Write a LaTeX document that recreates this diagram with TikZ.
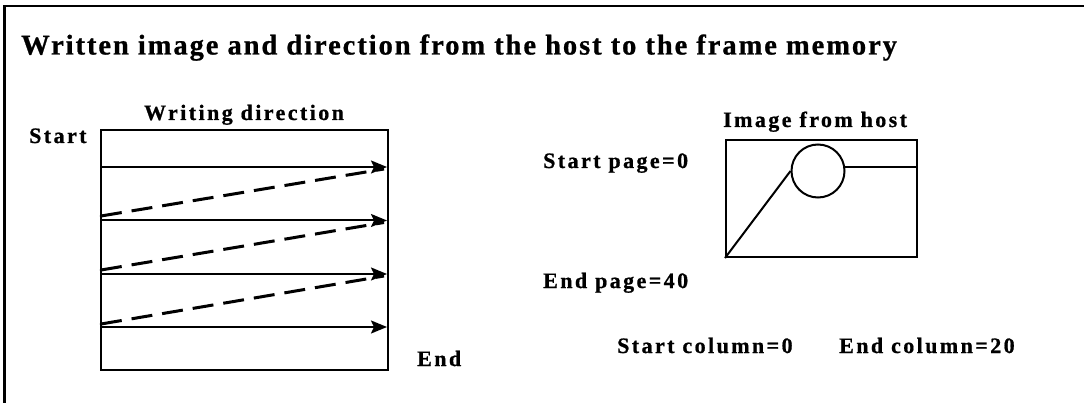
\documentclass[tikz,border=0pt]{standalone}
\usepackage{fontspec}
\setmainfont{Liberation Serif}
\newfontfamily\lblfont[LetterSpace=11,BoldFeatures={FakeBold=0.8}]{Liberation Serif}
\newfontfamily\ttlfont[LetterSpace=6.8,BoldFeatures={FakeBold=0.8}]{Liberation Serif}
\usetikzlibrary{arrows.meta}
\begin{document}
\begin{tikzpicture}[x=1pt,y=-1pt,
  thin line/.style={line width=2pt},
  lbl/.style={inner sep=0pt,font=\lblfont\bfseries\fontsize{22}{25}\selectfont},
  ttl/.style={inner sep=0pt,font=\ttlfont\bfseries\fontsize{28.5}{31}\selectfont},
  wrarrow/.style={line width=2pt,-{Stealth[length=16pt,width=13pt,inset=3pt]}},
  retline/.style={line width=3pt,dash pattern=on 21pt off 10pt},
  startdot/.style={circle,fill=black,inner sep=0pt,minimum size=3pt}]
\useasboundingbox (0,0) rectangle (1084,403);
% outer frame (top and left edges)
\draw[line width=2.5pt] (1084,6) -- (4.7,6) -- (4.7,403);
% title
\node[ttl,anchor=base west] (title) at (21,54.5) {Written image and direction from the host to the frame memory};
% writing direction box
\node[draw,thin line,minimum width=287pt,minimum height=240pt,inner sep=0pt] (wbox) at (244.5,250) {};
\node[lbl,anchor=base] (wdir) at (244,120) {Writing direction};
\node[lbl,anchor=base west] (start) at (29,143) {Start};
\node[lbl,anchor=base west] (endl) at (417,366) {End};
% rows
\foreach \i/\y in {1/167,2/220.5,3/274,4/327}{
  \coordinate (a\i) at (101,\y);
  \coordinate (b\i) at (387,\y);
  \draw[wrarrow] (a\i) -- (b\i);
}
\foreach \i/\j/\y/\yy in {2/1/216/169,3/2/270/222.5,4/3/324/276}{
  \node[startdot] (d\i) at (101,\y) {};
  \coordinate (e\j) at (384,\yy);
  \draw[retline] (d\i.center) -- (e\j);
}
% image from host
\node[lbl,anchor=base west] (imgl) at (723,127) {Image from host};
\node[draw,thin line,minimum width=191pt,minimum height=117pt,inner sep=0pt] (ibox) at (821.5,198.5) {};
\node[draw,thin line,circle,minimum size=53pt,inner sep=0pt] (circ) at (818,171) {};
\draw[thin line] (ibox.south west) -- (circ.west);
\draw[thin line] (circ.9) -- (circ.9 -| ibox.east);
% page / column labels
\node[lbl,anchor=base west] (sp) at (543,168) {Start page=0};
\node[lbl,anchor=base west] (ep) at (543,288) {End page=40};
\node[lbl,anchor=base west] (sc) at (617,353) {Start column=0};
\node[lbl,anchor=base west] (ec) at (839,353) {End column=20};
\end{tikzpicture}
\end{document}
